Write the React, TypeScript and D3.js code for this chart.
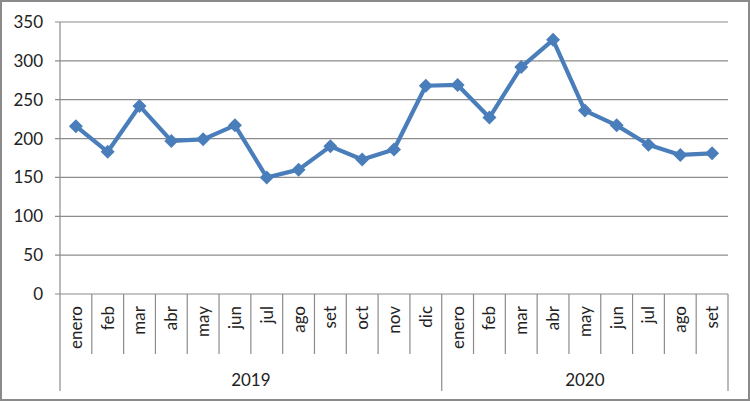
import React from "react";
import * as d3 from "d3";

const months2019 = ["enero", "feb", "mar", "abr", "may", "jun", "jul", "ago", "set", "oct", "nov", "dic"];
const months2020 = ["enero", "feb", "mar", "abr", "may", "jun", "jul", "ago", "set"];
const years = ["2019", "2020"];
const values2019 = [216, 183, 242, 197, 199, 217, 150, 160, 190, 173, 186, 268];
const values2020 = [269, 227, 292, 327, 236, 217, 192, 179, 181];
const yTicks = [0, 50, 100, 150, 200, 250, 300, 350];

const W = 750;
const H = 401;
const left = 60;
const right = 728;
const top = 22;
const bottom = 294;
const font = "Lato, 'Open Sans', sans-serif";

export default function App() {
  const cats = [
    ...months2019.map((m, i) => ({ key: `2019-${i}`, label: m, year: "2019", v: values2019[i] })),
    ...months2020.map((m, i) => ({ key: `2020-${i}`, label: m, year: "2020", v: values2020[i] })),
  ];
  const x = d3.scaleBand<string>().domain(cats.map((c) => c.key)).range([left, right]).padding(0);
  const y = d3.scaleLinear().domain([0, 350]).range([bottom, top]);
  const cx = (k: string) => (x(k) as number) + x.bandwidth() / 2;
  const line = d3
    .line<{ key: string; v: number }>()
    .x((d) => cx(d.key))
    .y((d) => y(d.v));
  const color = "#4a7ebb";
  const grid = "#8c8c8c";
  const bw = x.bandwidth();
  const yearGroups = years.map((yr) => {
    const cs = cats.filter((c) => c.year === yr);
    const x0 = x(cs[0].key) as number;
    const x1 = (x(cs[cs.length - 1].key) as number) + bw;
    return { yr, x0, x1 };
  });
  const ms = 7;
  return (
    <svg width={W} height={H} style={{ position: "absolute", left: 0, top: 0 }}>
      <rect x={0} y={0} width={W} height={H} fill="#fff" />
      <rect x={1} y={1} width={W - 2} height={H - 2} fill="none" stroke="#8a8a8a" strokeWidth={2} />
      {yTicks.map((t) => (
        <g key={t}>
          <line x1={left - 5} x2={right} y1={y(t)} y2={y(t)} stroke={grid} strokeWidth={1.2} />
          <text x={43} y={y(t)} dy="0.35em" textAnchor="end" fontFamily={font} fontSize={17} fill="#222">
            {t}
          </text>
        </g>
      ))}
      <line x1={left} x2={left} y1={top} y2={391} stroke={grid} strokeWidth={1.2} />
      {cats.map((c, i) => {
        const xb = (x(c.key) as number) + bw;
        const isYearEnd = i === months2019.length - 1 || i === cats.length - 1;
        return (
          <line key={c.key + "t"} x1={xb} x2={xb} y1={bottom} y2={isYearEnd ? 391 : 354} stroke={grid} strokeWidth={1.2} />
        );
      })}
      {cats.map((c) => (
        <text
          key={c.key + "l"}
          transform={`translate(${cx(c.key)},306) rotate(-90)`}
          textAnchor="end"
          dy="0.35em"
          fontFamily={font}
          fontSize={17}
          fill="#222"
        >
          {c.label}
        </text>
      ))}
      {yearGroups.map((g) => (
        <text key={g.yr} x={(g.x0 + g.x1) / 2} y={380} dy="0.35em" textAnchor="middle" fontFamily={font} fontSize={17} fill="#222">
          {g.yr}
        </text>
      ))}
      <path d={line(cats) || ""} fill="none" stroke={color} strokeWidth={4.2} strokeLinejoin="round" />
      {cats.map((c) => (
        <path
          key={c.key + "m"}
          d={`M${cx(c.key)},${y(c.v) - ms}L${cx(c.key) + ms},${y(c.v)}L${cx(c.key)},${y(c.v) + ms}L${cx(c.key) - ms},${y(c.v)}Z`}
          fill={color}
        />
      ))}
    </svg>
  );
}
